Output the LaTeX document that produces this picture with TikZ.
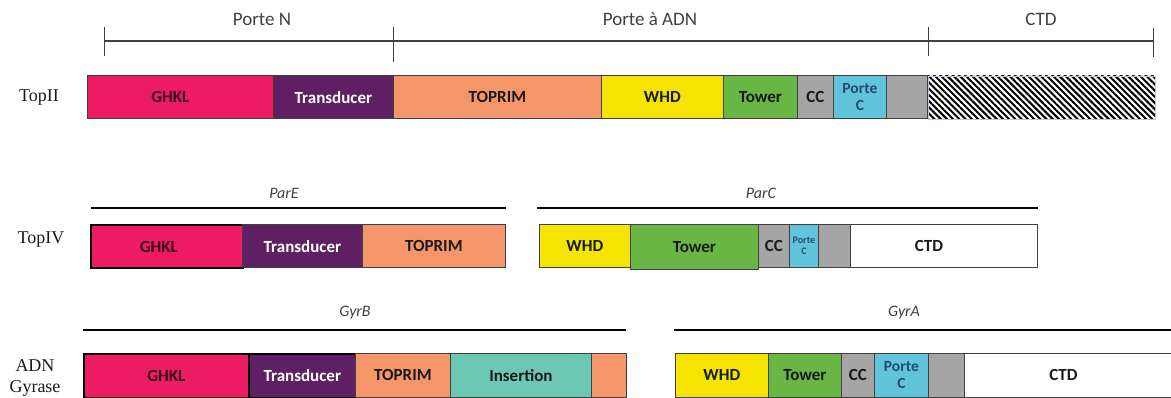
\documentclass[tikz,border=0pt]{standalone}
\usepackage{fontspec}
\newfontfamily\carlito{Carlito}
\newfontfamily\serifl{Liberation Serif}
\usetikzlibrary{patterns.meta}
\definecolor{ghkl}{HTML}{EC1B64}
\definecolor{transd}{HTML}{5E2062}
\definecolor{toprim}{HTML}{F5956A}
\definecolor{whd}{HTML}{F4E400}
\definecolor{tower}{HTML}{6AB644}
\definecolor{ccgray}{HTML}{A5A5A5}
\definecolor{portec}{HTML}{62C4DB}
\definecolor{insert}{HTML}{6CC8B4}
\definecolor{portetxt}{HTML}{1E4E6E}
\definecolor{darktxt}{HTML}{1A1A1A}
\definecolor{ghkltxt}{HTML}{3A0518}
\definecolor{linegray}{HTML}{404040}
\definecolor{hatchborder}{HTML}{B8C8DA}
\tikzset{
  segbox/.style={anchor=north west, inner sep=0pt, minimum height=43.5pt,
    draw=linegray, line width=0.8pt, align=center, text=darktxt,
    font=\carlito\bfseries\fontsize{17}{17}\selectfont},
  thickb/.style={draw=black, line width=1.6pt},
  whitetxt/.style={text=white},
  ghkltext/.style={text=ghkltxt},
  porte/.style={text=portetxt, font=\carlito\bfseries\fontsize{15.5}{17}\selectfont},
  portesmall/.style={text=portetxt, font=\carlito\bfseries\fontsize{10}{11}\selectfont},
  toplab/.style={text=linegray, font=\carlito\fontsize{19}{19}\selectfont},
  genelab/.style={text=linegray, font=\carlito\itshape\fontsize{16}{16}\selectfont},
  rowlab/.style={text=darktxt, font=\serifl\fontsize{18}{21}\selectfont, align=center},
  bracket/.style={draw=linegray, line width=1.3pt},
  tick/.style={draw=linegray, line width=1pt},
  geneline/.style={draw=black, line width=2pt},
}
\newcommand{\dseg}[6]{\node[segbox,#5,minimum width={(#3-#2)*1pt}] (#1) at (#2,#4) {#6};}
\begin{document}
\begin{tikzpicture}[x=1pt,y=-1pt]
\useasboundingbox (0,0) rectangle (1171,398);
\fill[white] (0,0) rectangle (1171,398);
\clip (0,0) rectangle (1171,398);

% ---------- Row 1 : TopII ----------
\node[toplab] (lPN) at (262,19) {Porte N};
\node[toplab] (lPA) at (650,19) {Porte à ADN};
\node[toplab] (lCT) at (1041,19) {CTD};
\coordinate (b1) at (104,41);
\coordinate (b2) at (393,41);
\coordinate (b3) at (928,41);
\coordinate (b4) at (1153,41);
\draw[bracket] (b1) -- (b4);
\draw[tick] (104,27) -- (104,56);
\draw[tick] (393,27) -- (393,62);
\draw[tick] (928,27) -- (928,56);
\draw[tick] (1153,28) -- (1153,57);

\node[rowlab] (rTopII) at (39,98) {TopII};
\dseg{a1}{87}{273}{75}{fill=ghkl,ghkltext}{\hspace*{-20pt}GHKL}
\dseg{a2}{273}{393}{75}{fill=transd,whitetxt}{Transducer}
\dseg{a3}{393}{601}{75}{fill=toprim}{TOPRIM}
\dseg{a4}{601}{723}{75}{fill=whd}{WHD}
\dseg{a5}{723}{797}{75}{fill=tower}{Tower}
\dseg{a6}{797}{833}{75}{fill=ccgray}{CC}
\dseg{a7}{833}{886}{75}{fill=portec,porte}{Porte\\C}
\dseg{a8}{886}{927}{75}{fill=ccgray}{}
\dseg{a9}{927}{1154}{75}{draw=hatchborder,pattern={Lines[angle=-45,distance=4.4pt,line width=2pt]},pattern color=black}{}

% ---------- Row 2 : TopIV ----------
\node[genelab] (lParE) at (284,193) {ParE};
\node[genelab] (lParC) at (761,193) {ParC};
\coordinate (e1) at (91,208);
\coordinate (e2) at (506,208);
\coordinate (c1) at (537,208);
\coordinate (c2) at (1038,208);
\draw[geneline] (e1) -- (e2);
\draw[geneline] (c1) -- (c2);

\node[rowlab] (rTopIV) at (41,240) {TopIV};
\dseg{b1}{90}{242}{224}{fill=ghkl,thickb,ghkltext}{\hspace*{-16pt}GHKL}
\dseg{b2}{242}{362}{224}{fill=transd,whitetxt}{Transducer}
\dseg{b3}{362}{505}{224}{fill=toprim}{TOPRIM}
\dseg{b4}{539}{630}{224}{fill=whd}{WHD}
\dseg{b5}{630}{758}{224}{fill=tower,minimum height=45pt}{Tower}
\dseg{b6}{758}{789}{224}{fill=ccgray}{CC}
\dseg{b7}{789}{818}{224}{fill=portec,portesmall}{Porte\\C}
\dseg{b8}{818}{850}{224}{fill=ccgray}{}
\dseg{b9}{850}{1037}{224}{fill=white}{\hspace*{-30pt}CTD}

% ---------- Row 3 : ADN Gyrase ----------
\node[genelab] (lGyrB) at (355,313) {GyrB};
\node[genelab] (lGyrA) at (904,313) {GyrA};
\coordinate (g1) at (83,330);
\coordinate (g2) at (626,330);
\coordinate (g3) at (674,330);
\coordinate (g4) at (1171,330);
\draw[geneline] (g1) -- (g2);
\draw[geneline] (g3) -- (g4);

\node[rowlab] (rGyr) at (35,378) {ADN\\Gyrase};
\dseg{c1}{83}{248}{353}{fill=ghkl,thickb,ghkltext}{GHKL}
\dseg{c2}{248}{355}{353}{fill=transd,whitetxt,thickb}{Transducer}
\dseg{c3}{355}{450}{353}{fill=toprim}{TOPRIM}
\dseg{c4}{450}{591}{353}{fill=insert}{Insertion}
\dseg{c5}{591}{626}{353}{fill=toprim}{}
\dseg{c6}{675}{768}{353}{fill=whd}{WHD}
\dseg{c7}{768}{841}{353}{fill=tower}{Tower}
\dseg{c8}{841}{874}{353}{fill=ccgray}{CC}
\dseg{c9}{874}{928}{353}{fill=portec,porte}{Porte\\C}
\dseg{c10}{928}{964}{353}{fill=ccgray}{}
\dseg{c11}{964}{1180}{353}{fill=white}{\hspace*{-18pt}CTD}
\end{tikzpicture}
\end{document}
